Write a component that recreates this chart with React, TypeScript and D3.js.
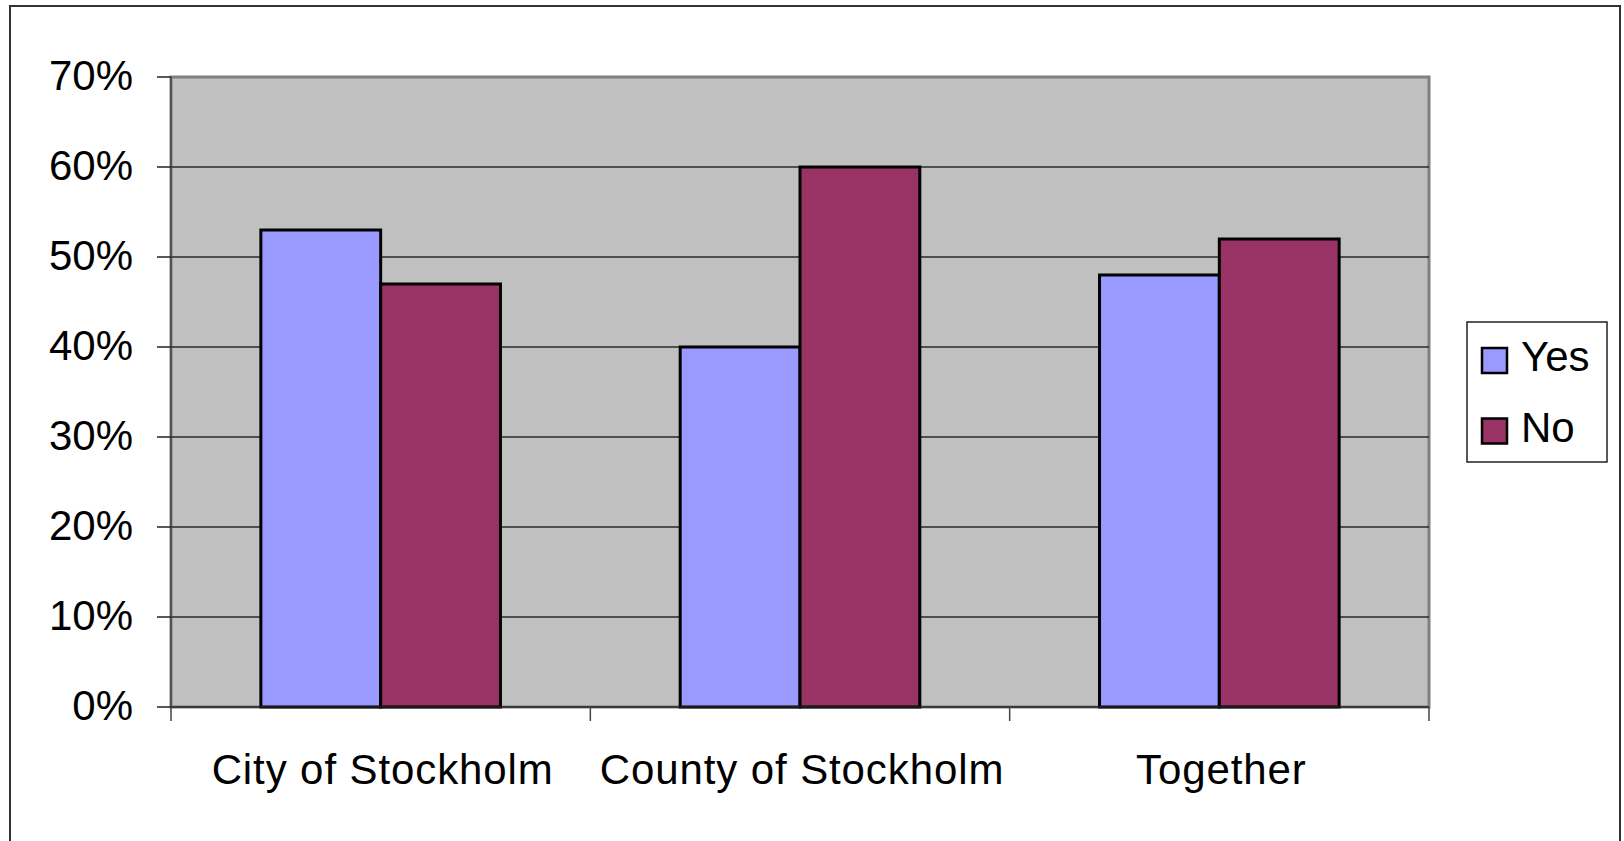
import React, { useEffect, useRef } from "react";
import * as d3 from "d3";

// Grouped bar chart: Yes / No share per area

const categories = ["City of Stockholm", "County of Stockholm", "Together"];
const seriesNames = ["Yes", "No"];
const yesValues = [0.53, 0.40, 0.48];
const noValues = [0.47, 0.60, 0.52];
const yTicks = [0, 0.1, 0.2, 0.3, 0.4, 0.5, 0.6, 0.7];
const colors = ["#9999FF", "#993366"];

export default function App() {
  const ref = useRef<SVGSVGElement>(null);

  useEffect(() => {
    const svg = d3.select(ref.current);
    svg.selectAll("*").remove();

    const H = 841;
    const left = 171, right = 1429, top = 77, bottom = 707;
    const font = "Liberation Sans, Arial, sans-serif";

    // outer frame (no bottom edge visible)
    svg.append("path")
      .attr("d", `M10,${H} L10,6 L1620,6 L1620,${H}`)
      .attr("fill", "none")
      .attr("stroke", "#333")
      .attr("stroke-width", 2);

    const x0 = d3.scaleBand().domain(categories).range([left, right]);
    const y = d3.scaleLinear().domain([0, 0.7]).range([bottom, top]);
    const barW = x0.bandwidth() / 3.5;
    const x1 = d3.scaleBand().domain(seriesNames)
      .range([0, barW * 2]);

    // plot background
    svg.append("rect")
      .attr("x", left).attr("y", top)
      .attr("width", right - left).attr("height", bottom - top)
      .attr("fill", "#C0C0C0")
      .attr("stroke", "#808080")
      .attr("stroke-width", 3);

    // gridlines
    svg.selectAll(".grid").data(yTicks.slice(1, -1)).join("line")
      .attr("class", "grid")
      .attr("x1", left).attr("x2", right)
      .attr("y1", d => y(d)).attr("y2", d => y(d))
      .attr("stroke", "#2a2a2a").attr("stroke-width", 1.3);

    // bars
    const rows = categories.map((c, i) => ({ c, vals: [yesValues[i], noValues[i]] }));
    const g = svg.selectAll(".cat").data(rows).join("g")
      .attr("transform", d => `translate(${x0(d.c)! + (x0.bandwidth() - barW * 2) / 2},0)`);
    g.selectAll("rect").data(d => d.vals.map((v, j) => ({ v, s: seriesNames[j], j })))
      .join("rect")
      .attr("x", d => x1(d.s)!)
      .attr("y", d => y(d.v))
      .attr("width", barW)
      .attr("height", d => y(0) - y(d.v))
      .attr("fill", d => colors[d.j])
      .attr("stroke", "#000")
      .attr("stroke-width", 3);

    // y axis
    svg.append("line")
      .attr("x1", left).attr("x2", left).attr("y1", top).attr("y2", bottom)
      .attr("stroke", "#444").attr("stroke-width", 1.5);
    svg.selectAll(".ytick").data(yTicks).join("line")
      .attr("x1", left - 14).attr("x2", left)
      .attr("y1", d => y(d)).attr("y2", d => y(d))
      .attr("stroke", "#222").attr("stroke-width", 1.5);
    svg.selectAll(".ylab").data(yTicks).join("text")
      .attr("x", 133).attr("y", d => y(d) + 12.5)
      .attr("text-anchor", "end")
      .attr("font-family", font).attr("font-size", 42)
      .text(d => d3.format(".0%")(d));

    // x axis
    svg.append("line")
      .attr("x1", left).attr("x2", right).attr("y1", bottom).attr("y2", bottom)
      .attr("stroke", "#222").attr("stroke-width", 1.5);
    const bounds = categories.map(c => x0(c)!).concat([right]);
    svg.selectAll(".xtick").data(bounds).join("line")
      .attr("x1", d => d).attr("x2", d => d)
      .attr("y1", bottom).attr("y2", bottom + 14)
      .attr("stroke", "#444").attr("stroke-width", 1.5);
    svg.selectAll(".xlab").data(categories).join("text")
      .attr("x", d => x0(d)! + x0.bandwidth() / 2 + 2)
      .attr("y", 784)
      .attr("text-anchor", "middle")
      .attr("font-family", font).attr("font-size", 42)
      .attr("letter-spacing", 0.9)
      .text(d => d);

    // legend
    svg.append("rect")
      .attr("x", 1467).attr("y", 322).attr("width", 140).attr("height", 140)
      .attr("fill", "#fff").attr("stroke", "#222").attr("stroke-width", 1.5);
    const lg = svg.selectAll(".leg").data(seriesNames).join("g")
      .attr("transform", (d, i) => `translate(1482,${348 + i * 70.5})`);
    lg.append("rect")
      .attr("width", 25).attr("height", 25)
      .attr("fill", (d, i) => colors[i])
      .attr("stroke", "#000").attr("stroke-width", 2.5);
    lg.append("text")
      .attr("x", 39).attr("y", 23)
      .attr("font-family", font).attr("font-size", 42)
      .text(d => d);
  }, []);

  return (
    <svg ref={ref} width={1624} height={841}
      style={{ position: "absolute", left: 0, top: 0, background: "#fff" }} />
  );
}
